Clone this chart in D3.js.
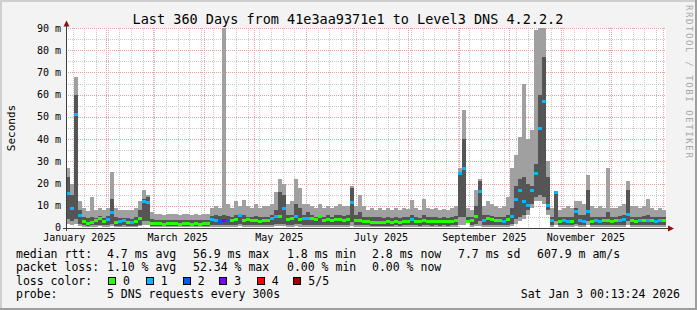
<!DOCTYPE html>
<html lang="en">
<head>
<meta charset="utf-8">
<title>smokeping 360 days</title>
<script src="https://cdn.jsdelivr.net/npm/d3@7"></script>
<style>
  body { margin: 0; background: #f3f3f3; }
  svg text { font-family: "DejaVu Sans Mono", monospace; fill: #000; }
</style>
</head>
<body>
<script>
// time span of the graph (one step = 2.4 days, 150 steps)
var endTime = new Date(Date.UTC(2026, 0, 3, 0, 13, 24));
var spanDays = 360;
var stepDays = 2.4;

// smoke: ping1 (lo) .. ping5 (hi), inner band p2..p4, median, lost pings per step (ms / count)
var hi = [27,20,68,12,9,7.5,14,8,9,8, 9,25,9,8,8,8,8,9,12,17,
          15,7,6.5,6.5,6,6.5,6.2,6.5,6,6.3, 6.5,6,6.3,6,6.2,6.5,9,10,9,95,
          11,9,12,10,12.5,10,9,11,9,10, 10,11,16,22,20,11,12,22,18,11,
          11,10,9,11,9,10,9,10,11,10, 10,19,10,15,10,8,9,8,9,8,
          9,8,9,8,9,8.5,12.5,9,8,13, 9,8.5,9,8,8.5,8,9,10,27,53,
          9,8,17,22,10,12,11,10,9,10, 14,27,33,41,65,40,44,89,95,95,
          30,9,16.5,8,9,10,9,12,12,11, 24,10,9,10,9,27,9,9,10,11,
          21,10,10,9,10,13,9,8,9,8];
var p4 = [23,15,60,8,5,4.5,5,4.5,5.5,4.5, 5.5,13,5,4.5,4.5,4.5,4,5,8,13,
          14,4,3.8,3.6,3.5,3.7,3.6,3.8,3.5,3.6, 3.6,3.5,3.6,3.5,3.6,3.7,5.5,6,5.5,6,
          5.5,5,6,6,6,5,5,5.5,5,5, 5,6,8,16,15,6,6,11,9,6,
          7,6,5,6,5,6,5,6,6,5.5, 6,18,6,7,5,5,5,5,5,4.5,
          5,4.5,5,4.5,5,5,6,5,4.5,6, 5,5,5,4.5,5,4.5,5,5.5,25,40,
          5,5,10,21,6,6,5.5,5,5,5, 6,9,19,22,23,20,19,29,60,77,
          23,5,16,5,5,5,5,9,6,6, 17,5,5,5,5,7,5,5,5.5,6,
          17,5,5,5,5.5,6,5,5,5,5];
var med = [15.5,9,51,5.5,2.8,2.2,2.6,3.2,4.4,2.8, 4,7,2.5,3,3.5,2.5,2.6,3,4.5,11.8,
           11.5,2.2,2,1.9,1.8,2,1.9,2,1.8,1.9, 1.9,1.8,1.9,1.8,1.9,2,3.8,3.4,2.8,3.2,
           3.4,3.5,4,5.5,3.6,3.8,3.4,3.6,3.1,3.5, 3.5,4.5,5,5.2,8.8,4,4.5,5,4,4.5,
           4.5,4.5,4,5,3.5,4,3.5,4,4,3.5, 4,11.4,3.5,3.5,3,3,2.5,2.5,2.5,2.5,
           2.8,2.5,2.8,2.6,3,3,3.9,3,2.8,3.2, 3,2.8,3,2.8,3,2.8,3,3.5,24.6,26.8,
           3,3.5,5,16.4,3.5,4.5,4,3.5,3.5,3, 4,5,13,17,12,10,17,24.6,45,56.8,
           10,3.6,16,3,3.5,3,3,7.3,3.5,3, 7.3,3,3.5,3,3.5,3.5,3,3.5,3.6,4,
           6.3,3.5,3,3.5,3.5,3.6,3.5,3,3.5,3.5];
var p2 = [4,3,4,2,1.2,1,1.2,1.3,1.5,1.2, 1.3,2,1,1,1.2,1,1,1.1,1.5,3,
          3,1,0.9,0.9,0.9,0.9,0.9,0.9,0.9,0.9, 0.9,0.9,0.9,0.9,0.9,0.9,1.5,1.4,1.3,1.4,
          1.4,1.3,1.5,1.6,1.4,1.3,1.3,1.4,1.3,1.3, 1.3,1.5,1.8,2,2,1.4,1.5,1.8,1.6,1.4,
          1.5,1.4,1.3,1.5,1.3,1.4,1.3,1.4,1.4,1.3, 1.4,2.5,1.3,1.3,1.2,1.2,1.1,1.1,1.1,1.1,
          1.1,1.1,1.2,1.1,1.2,1.2,1.5,1.2,1.1,1.3, 1.2,1.1,1.2,1.1,1.2,1.1,1.2,1.3,5,5,
          2.5,1.3,1.8,3,1.4,1.5,1.4,1.3,1.3,1.3, 1.5,2,4,5,6,8,11,14,15,14,
          8,1.4,3,1.3,1.3,1.3,1.3,2,1.4,1.4, 3,1.3,1.3,1.3,1.3,1.4,1.3,1.3,1.4,1.4,
          3,1.3,1.3,1.3,1.4,1.5,1.3,1.3,1.3,1.3];
var lo = [2,1.5,2,1,0.6,0.5,0.6,0.6,0.8,0.6, 0.6,1,0.5,0.5,0.6,0.5,0.5,0.5,0.7,1.5,
          1.5,0.4,0.4,0.4,0.4,0.4,0.4,0.4,0.4,0.4, 0.4,0.4,0.4,0.4,0.4,0.4,0.6,0.6,0.5,0.6,
          0.6,0.5,0.6,0.7,0.6,0.5,0.5,0.6,0.5,0.5, 0.5,0.6,0.7,0.8,0.8,0.6,0.6,0.7,0.6,0.5,
          0.6,0.5,0.5,0.6,0.5,0.5,0.5,0.5,0.6,0.5, 0.5,1,0.5,0.5,0.5,0.5,0.5,0.5,0.5,0.5,
          0.5,0.5,0.5,0.5,0.5,0.5,0.6,0.5,0.5,0.5, 0.5,0.5,0.5,0.5,0.5,0.5,0.5,0.6,1.5,1.5,
          2.5,0.5,0.7,1,0.6,0.6,0.5,0.5,0.5,0.5, 0.6,1,2,3,4,6,9,12,12,11,
          6,0.6,1.5,0.5,0.5,0.5,0.5,0.8,0.6,0.6, 1.5,0.5,0.5,0.5,0.5,0.6,0.5,0.5,0.6,0.6,
          1.5,0.5,0.5,0.5,0.6,0.6,0.5,0.5,0.5,0.5];
var loss = [1,1,1,1,0,0,0,0,0,0, 1,1,0,1,1,0,1,0,0,1,
            1,0,0,0,0,0,0,0,0,0, 0,0,0,0,0,0,1,1,2,3,
            2,0,0,1,0,0,0,0,0,0, 0,1,1,0,1,0,0,1,0,1,
            1,0,0,0,0,0,0,0,0,0, 0,1,0,0,0,0,0,0,0,0,
            0,0,0,0,0,0,1,0,0,0, 0,0,0,0,0,0,0,0,1,1,
            0,0,0,1,1,0,0,0,0,1, 0,1,1,1,1,1,1,1,1,1,
            1,1,1,0,1,1,0,1,1,1, 1,0,1,1,0,0,0,0,1,1,
            1,0,0,1,0,1,0,1,1,0];

var yMajor = [10,20,30,40,50,60,70,80,90];
var yMinor = [5,15,25,35,45,55,65,75,85];
var yLabels = ["10 m","20 m","30 m","40 m","50 m","60 m","70 m","80 m","90 m"];
var lossColors = ["#26ff00","#00b8ff","#0059ff","#7e00ff","#ff0000","#a00000"];
var lossNames = ["0","1","2","3","4","5/5"];

var legendRtt = ["4.7 ms avg","56.9 ms max","1.8 ms min","2.8 ms now","7.7 ms sd","607.9 m am/s"];
var legendLoss = ["1.10 % avg","52.34 % max","0.00 % min","0.00 % now"];

var W = 697, H = 310;
var dayMs = 86400000;
var startTime = new Date(endTime.getTime() - spanDays * dayMs);

var svg = d3.select("body").append("svg").attr("width", W).attr("height", H);

// background + 3d border
svg.append("rect").attr("width", W).attr("height", H).attr("fill", "#f3f3f3");
svg.append("rect").attr("x", 0).attr("y", 0).attr("width", W).attr("height", 2).attr("fill", "#cfcfcf");
svg.append("rect").attr("x", 0).attr("y", 0).attr("width", 2).attr("height", H).attr("fill", "#cfcfcf");
svg.append("rect").attr("x", 0).attr("y", H - 2).attr("width", W).attr("height", 2).attr("fill", "#9e9e9e");
svg.append("rect").attr("x", W - 2).attr("y", 0).attr("width", 2).attr("height", H).attr("fill", "#9e9e9e");

var x = d3.scaleUtc().domain([startTime, endTime]).range([66, 666]);
var y = d3.scaleLinear().domain([0, 90]).range([228, 28]);

// canvas
svg.append("rect").attr("x", x.range()[0]).attr("y", y.range()[1])
   .attr("width", x.range()[1] - x.range()[0]).attr("height", y.range()[0] - y.range()[1])
   .attr("fill", "#fff");

var grid = svg.append("g").attr("shape-rendering", "crispEdges");
// minor grid
grid.selectAll(".hmin").data(yMinor).enter().append("line")
    .attr("x1", 66).attr("x2", 666).attr("y1", function(d){ return Math.round(y(d)) + 0.5; })
    .attr("y2", function(d){ return Math.round(y(d)) + 0.5; })
    .attr("stroke", "#c8c8c8").attr("stroke-dasharray", "1,1");
grid.selectAll(".vmin").data(d3.utcSunday.range(startTime, endTime)).enter().append("line")
    .attr("x1", function(d){ return Math.round(x(d)) + 0.5; }).attr("x2", function(d){ return Math.round(x(d)) + 0.5; })
    .attr("y1", 28).attr("y2", 228)
    .attr("stroke", "#c8c8c8").attr("stroke-dasharray", "1,1");
// major grid
grid.selectAll(".hmaj").data(yMajor).enter().append("line")
    .attr("x1", 66).attr("x2", 666).attr("y1", function(d){ return Math.round(y(d)) + 0.5; })
    .attr("y2", function(d){ return Math.round(y(d)) + 0.5; })
    .attr("stroke", "#eaa0a0").attr("stroke-dasharray", "1,1");
grid.selectAll(".vmaj").data(d3.utcMonth.range(startTime, endTime)).enter().append("line")
    .attr("x1", function(d){ return Math.round(x(d)) + 0.5; }).attr("x2", function(d){ return Math.round(x(d)) + 0.5; })
    .attr("y1", 28).attr("y2", 228)
    .attr("stroke", "#eaa0a0").attr("stroke-dasharray", "1,1");

// smoke
var steps = d3.range(hi.length);
function t0(i) { return new Date(startTime.getTime() + i * stepDays * dayMs); }
function t1(i) { return new Date(startTime.getTime() + (i + 1) * stepDays * dayMs); }

svg.append("clipPath").attr("id", "cv").append("rect")
   .attr("x", 66).attr("y", 28).attr("width", 600).attr("height", 200);
var plot = svg.append("g").attr("clip-path", "url(#cv)").attr("shape-rendering", "crispEdges");

plot.selectAll(".light").data(steps).enter().append("rect")
    .attr("x", function(i){ return x(t0(i)); })
    .attr("width", function(i){ return x(t1(i)) - x(t0(i)); })
    .attr("y", function(i){ return y(hi[i]); })
    .attr("height", function(i){ return y(lo[i]) - y(hi[i]); })
    .attr("fill", "#a0a0a0");
plot.selectAll(".dark").data(steps).enter().append("rect")
    .attr("x", function(i){ return x(t0(i)); })
    .attr("width", function(i){ return x(t1(i)) - x(t0(i)); })
    .attr("y", function(i){ return y(p4[i]); })
    .attr("height", function(i){ return y(p2[i]) - y(p4[i]); })
    .attr("fill", "#555555");
plot.selectAll(".med").data(steps).enter().append("rect")
    .attr("x", function(i){ return x(t0(i)); })
    .attr("width", function(i){ return x(t1(i)) - x(t0(i)); })
    .attr("y", function(i){ return y(med[i]) - 1.5; })
    .attr("height", 3)
    .attr("fill", function(i){ return lossColors[loss[i]]; });

// axes
var axis = svg.append("g").attr("shape-rendering", "crispEdges");
axis.append("line").attr("x1", 66.5).attr("x2", 66.5).attr("y1", 231).attr("y2", 24).attr("stroke", "#404040");
axis.append("line").attr("x1", 63).attr("x2", 669).attr("y1", 228.5).attr("y2", 228.5).attr("stroke", "#404040");
svg.append("path").attr("d", "M63.5,26.5 L66.5,20.5 L69.5,26.5 Z").attr("fill", "#8b1010");
svg.append("path").attr("d", "M668,225.5 L674,228.5 L668,231.5 Z").attr("fill", "#8b1010");

// y labels
svg.selectAll(".ylab").data(yMajor).enter().append("text")
   .attr("x", 61).attr("y", function(d){ return y(d) + 3.5; })
   .attr("text-anchor", "end").attr("font-size", "10px")
   .text(function(d, i){ return yLabels[i]; });
svg.append("text").attr("x", 61).attr("y", y(0) + 3).attr("text-anchor", "end")
   .attr("font-size", "10px").text("0");

// x labels, centred half a month after the month start (only those inside the graph)
var labMonths = d3.utcMonth.every(2).range(new Date(Date.UTC(2025, 0, 1)), endTime)
    .filter(function(d){ return d.getTime() + 15 * dayMs <= endTime.getTime(); });
var fmt = d3.utcFormat("%B %Y");
svg.selectAll(".xlab").data(labMonths).enter().append("text")
   .attr("x", function(d){ return x(new Date(d.getTime() + 15 * dayMs)); })
   .attr("y", 240.5).attr("text-anchor", "middle").attr("font-size", "10px")
   .text(function(d){ return fmt(d); });

// title, unit, watermark
svg.append("text").attr("x", 348).attr("y", 24).attr("text-anchor", "middle")
   .attr("font-size", "13.5px").text("Last 360 Days from 41e3aa9371e1 to Level3 DNS 4.2.2.2");
svg.append("text").attr("transform", "translate(15,128) rotate(-90)").attr("text-anchor", "middle")
   .attr("font-size", "11px").text("Seconds");
svg.append("text").attr("transform", "translate(686,5) rotate(90)").attr("text-anchor", "start")
   .attr("font-size", "9px").attr("letter-spacing", "1.6px").style("fill", "#a8a8a8")
   .text("RRDTOOL / TOBI OETIKER");

// legend
var lg = svg.append("g").attr("font-size", "11.5px").style("white-space", "pre");
var col = [16, 107, 193, 287, 372, 458, 537];
lg.append("text").attr("x", col[0]).attr("y", 257.5).text("median rtt:");
lg.selectAll(".rtt").data(legendRtt).enter().append("text")
  .attr("x", function(d, i){ return col[i + 1]; }).attr("y", 257.5).text(function(d){ return d; });
lg.append("text").attr("x", col[0]).attr("y", 271).text("packet loss:");
lg.selectAll(".pl").data(legendLoss).enter().append("text")
  .attr("x", function(d, i){ return col[i + 1]; }).attr("y", 271).text(function(d){ return d; });
lg.append("text").attr("x", col[0]).attr("y", 284.5).text("loss color:");
var boxX = [108, 145.7, 182.7, 219.3, 256.7, 293.3];
lg.selectAll(".lbox").data(lossColors).enter().append("rect")
  .attr("x", function(d, i){ return Math.round(boxX[i]) + 0.5; }).attr("y", 277.5)
  .attr("width", 7).attr("height", 7).attr("fill", function(d){ return d; })
  .attr("stroke", "#000").attr("stroke-width", 1);
lg.selectAll(".lname").data(lossNames).enter().append("text")
  .attr("x", function(d, i){ return boxX[i] + 15; }).attr("y", 284.5).text(function(d){ return d; });
lg.append("text").attr("x", col[0]).attr("y", 298).text("probe:");
lg.append("text").attr("x", col[1]).attr("y", 298).text("5 DNS requests every 300s");
lg.append("text").attr("x", 680).attr("y", 298).attr("text-anchor", "end").text("Sat Jan  3 00:13:24 2026");
</script>
</body>
</html>
